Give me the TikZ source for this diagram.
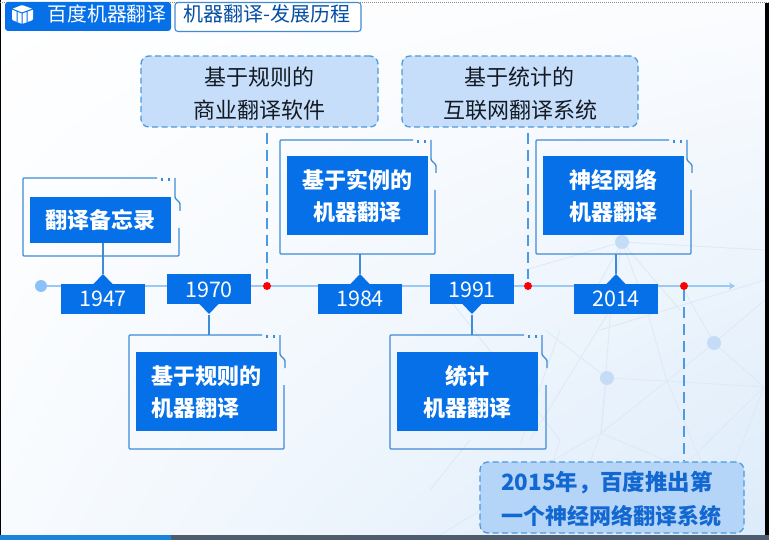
\documentclass[tikz,border=0pt]{standalone}
\usepackage{fontspec}
\setmainfont{Noto Sans CJK SC}
\usetikzlibrary{arrows.meta,shadings}
\definecolor{mainblue}{HTML}{0570E8}
\definecolor{framebl}{HTML}{3F8BD6}
\definecolor{calloutbl}{HTML}{C6DEF9}
\definecolor{calloutb}{HTML}{B4D4F8}
\definecolor{dashbl}{HTML}{4C9ADF}
\definecolor{axisbl}{HTML}{9CC8F4}
\definecolor{dotbl}{HTML}{8CC0F8}
\definecolor{netln}{HTML}{DCE9F6}
\definecolor{netdot}{HTML}{C4DCF6}
\definecolor{textdk}{HTML}{141A24}
\definecolor{textbl}{HTML}{1268D0}
\definecolor{bgA}{HTML}{FFFFFF}
\definecolor{bgB}{HTML}{FBFCFE}
\definecolor{bgC}{HTML}{F8FBFE}
\definecolor{bgD}{HTML}{DCEBFA}
\definecolor{barblue}{HTML}{1A84DC}
\definecolor{bargray}{HTML}{4E5C6E}
\newcommand{\fsz}[1]{\fontsize{#1}{#1}\selectfont}
% x1 y1 x2 y2 : framed card with broken upper right corner
\newcommand{\cardframe}[4]{%
  \draw[cardline] (#3-4,#2) -- (#3-4,#2+20) -- (#3+1,#2+25) -- (#3+1,#2+33);
  \draw[cardline] (#3,#2+50) -- (#3,#4) -- (#1,#4) -- (#1,#2) -- (#3-22,#2);
  \draw[cardline] (#3-17,#2) -- (#3-17,#2+3) (#3-10,#2) -- (#3-10,#2+3);
}
\tikzset{
  x=1pt,y=-1pt,
  cardline/.style={draw=framebl,line width=1.4pt,rounded corners=1pt},
  cardbox/.style={fill=mainblue,draw=none,text=white,inner sep=0pt,font=\fsz{22}\bfseries,align=center},
  yearbox/.style={fill=mainblue,draw=none,text=white,minimum width=84pt,minimum height=30pt,inner sep=0pt,font=\fsz{21.5}},
  callout/.style={fill=calloutbl,draw=dashbl,line width=1.3pt,dash pattern=on 6pt off 3.5pt,rounded corners=8pt,inner sep=0pt,align=center,text=textdk,font=\fsz{22}},
  dropline/.style={draw=dashbl,line width=1.2pt,dash pattern=on 11pt off 6pt},
  stem/.style={draw=framebl,line width=1.4pt},
  reddot/.style={circle,fill=red,draw=none,minimum size=8pt,inner sep=0pt},
  netline/.style={draw=netln,line width=0.8pt},
  netnode/.style={fill=netdot,draw=none},
}
\begin{document}
\begin{tikzpicture}
\useasboundingbox (0,0) rectangle (769,540);
\clip (0,0) rectangle (769,540);
% background
\shade[upper left=bgA,upper right=bgB,lower left=bgC,lower right=bgD] (0,0) rectangle (769,540);
% network
\draw[netline] (622,242) -- (525,270) (622,242) -- (590,300) (622,242) -- (611,307) (622,242) -- (640,290) (622,242) -- (765,250) (622,242) -- (680,310);
\draw[netline] (611,307) -- (601,433) -- (560,540) (601,433) -- (667,381) -- (640,285) (667,381) -- (764,387) (667,381) -- (714,343) -- (684,290) (714,343) -- (764,387) -- (720,500);
\draw[netline] (545,330) -- (607,378) -- (667,381) (607,378) -- (601,433) (430,490) -- (470,440) (550,462) -- (601,433) -- (700,475) (520,445) -- (560,330) (610,310) -- (530,440);
\draw[netline] (600,330) -- (765,280) (714,343) -- (765,300) (667,381) -- (730,530) (764,387) -- (690,460) (440,535) -- (551,467) -- (600,535) (450,300) -- (560,440) -- (551,467);
\fill[netnode] (622,242) circle[radius=7];
\fill[netnode] (714,343) circle[radius=7];
\fill[netnode] (607,378) circle[radius=7];
\fill[netnode] (551,467) circle[radius=7];
% window edges
\fill[black] (0,0) rectangle (1.3,535);
\fill[black] (765,3) rectangle (769,535);
\fill[barblue] (0,535) rectangle (171,540);
\fill[bargray] (171,535) rectangle (769,540);
\draw[black!45,line width=0.8pt,dash pattern=on 1pt off 1pt] (0,2) -- (769,2);
% tabs
\node[fill=mainblue,draw=none,rounded corners=3pt,minimum width=166pt,minimum height=29pt,inner sep=0pt,text=white] (tabA) at (88,16.5) {};
\node[text=white,font=\fsz{19.8},inner sep=0pt] (tabAtext) at (107,14) {百度机器翻译};
\node[fill=white,draw=framebl,line width=1.1pt,rounded corners=3pt,minimum width=186pt,minimum height=29pt,inner sep=0pt] (tabB) at (268,17) {};
\node[text=mainblue!70!black,font=\fsz{20},inner sep=0pt] (tabBtext) at (267,14) {机器翻译-发展历程};
% cube icon
\fill[white,rounded corners=1pt] (22,5) -- (33,9) -- (33,20) -- (22,24) -- (12,20) -- (12,9) -- cycle;
\draw[mainblue,line width=1pt] (12,9) -- (22,13) -- (33,9) (22,13) -- (22,24) (17,11) -- (17,22) (27,11) -- (27,22);
% axis
\coordinate (axisstart) at (41,286);
\coordinate (axisend) at (735,286);
\draw[draw=axisbl,line width=1.3pt,-{Stealth[length=6pt,width=7pt]}] (axisstart) -- (axisend);
\fill[dotbl] (axisstart) circle[radius=6];
\node[reddot] (red1) at (267,286) {};
\node[reddot] (red2) at (528,286) {};
\node[reddot] (red3) at (684,286) {};
% callouts
\node[callout,minimum width=237pt,minimum height=71pt] (c1) at (259.5,91.5) {};
\node[text=textdk,font=\fsz{22},inner sep=0pt] (c1a) at (259,77) {基于规则的};
\node[text=textdk,font=\fsz{22},inner sep=0pt] (c1b) at (259.5,110) {商业翻译软件};
\node[callout,minimum width=236pt,minimum height=71pt] (c2) at (520,91.5) {};
\node[text=textdk,font=\fsz{22},inner sep=0pt] (c2a) at (519,77) {基于统计的};
\node[text=textdk,font=\fsz{22},inner sep=0pt] (c2b) at (520,110) {互联网翻译系统};
\node[callout,fill=calloutb,minimum width=264pt,minimum height=71pt] (c3) at (612,497.5) {};
\node[text=textbl,font=\fsz{22.4}\bfseries,inner sep=0pt,anchor=west] (c3a) at (501,483) {2015年，百度推出第};
\node[text=textbl,font=\fsz{22}\bfseries,inner sep=0pt,anchor=west] (c3b) at (501,516) {一个神经网络翻译系统};
\draw[dropline,shorten >=3pt] (267,133) -- (red1);
\draw[dropline,shorten >=3pt] (528,133) -- (red2);
\draw[dropline] (red3) -- (c3.north -| red3);
% cards
\cardframe{23}{178}{179}{256}
\cardframe{280}{140}{435}{254}
\cardframe{536}{140}{691}{254}
\cardframe{129}{335}{284}{449}
\cardframe{390}{335}{546}{449}
\node[cardbox,minimum width=141pt,minimum height=46pt] (m1947) at (100.5,220) {翻译备忘录};
\node[cardbox,minimum width=141pt,minimum height=79pt] (m1970) at (206.5,391) {};
\node[text=white,font=\fsz{22}\bfseries,inner sep=0pt,anchor=west] (m1970a) at (151,376) {基于规则的};
\node[text=white,font=\fsz{22}\bfseries,inner sep=0pt,anchor=west] (m1970b) at (151,408) {机器翻译};
\node[cardbox,minimum width=141pt,minimum height=79pt] (m1984) at (357.5,195.5) {};
\node[text=white,font=\fsz{22}\bfseries,inner sep=0pt] (m1984a) at (357,180) {基于实例的};
\node[text=white,font=\fsz{22}\bfseries,inner sep=0pt] (m1984b) at (357,212) {机器翻译};
\node[cardbox,minimum width=141pt,minimum height=79pt] (m1991) at (467.5,391) {};
\node[text=white,font=\fsz{22}\bfseries,inner sep=0pt] (m1991a) at (467,376) {统计};
\node[text=white,font=\fsz{22}\bfseries,inner sep=0pt] (m1991b) at (467,408) {机器翻译};
\node[cardbox,minimum width=141pt,minimum height=79pt] (m2014) at (613.5,195.5) {};
\node[text=white,font=\fsz{22}\bfseries,inner sep=0pt] (m2014a) at (613,180) {神经网络};
\node[text=white,font=\fsz{22}\bfseries,inner sep=0pt] (m2014b) at (613,212) {机器翻译};
% years
\node[yearbox] (y1947) at (103,299) {1947};
\node[yearbox] (y1970) at (209,289.5) {1970};
\node[yearbox] (y1984) at (360,299) {1984};
\node[yearbox] (y1991) at (472,289.5) {1991};
\node[yearbox] (y2014) at (616,299) {2014};
\fill[mainblue] (93,284.5) -- (103,274) -- (113,284.5) -- cycle;
\fill[mainblue] (350,284.5) -- (360,274) -- (370,284.5) -- cycle;
\fill[mainblue] (606,284.5) -- (616,274) -- (626,284.5) -- cycle;
\fill[mainblue] (199,303.5) -- (209,314) -- (219,303.5) -- cycle;
\fill[mainblue] (462,303.5) -- (472,314) -- (482,303.5) -- cycle;
\draw[stem] (y1947.north) ++(0,-10) -- (m1947.south -| y1947.north) ++(0,13);
\draw[stem] (y1984.north) ++(0,-10) -- (360,254);
\draw[stem] (y2014.north) ++(0,-10) -- (616,254);
\draw[stem] (y1970.south) ++(0,10) -- (209,335);
\draw[stem] (y1991.south) ++(0,10) -- (472,335);
\end{tikzpicture}
\end{document}
